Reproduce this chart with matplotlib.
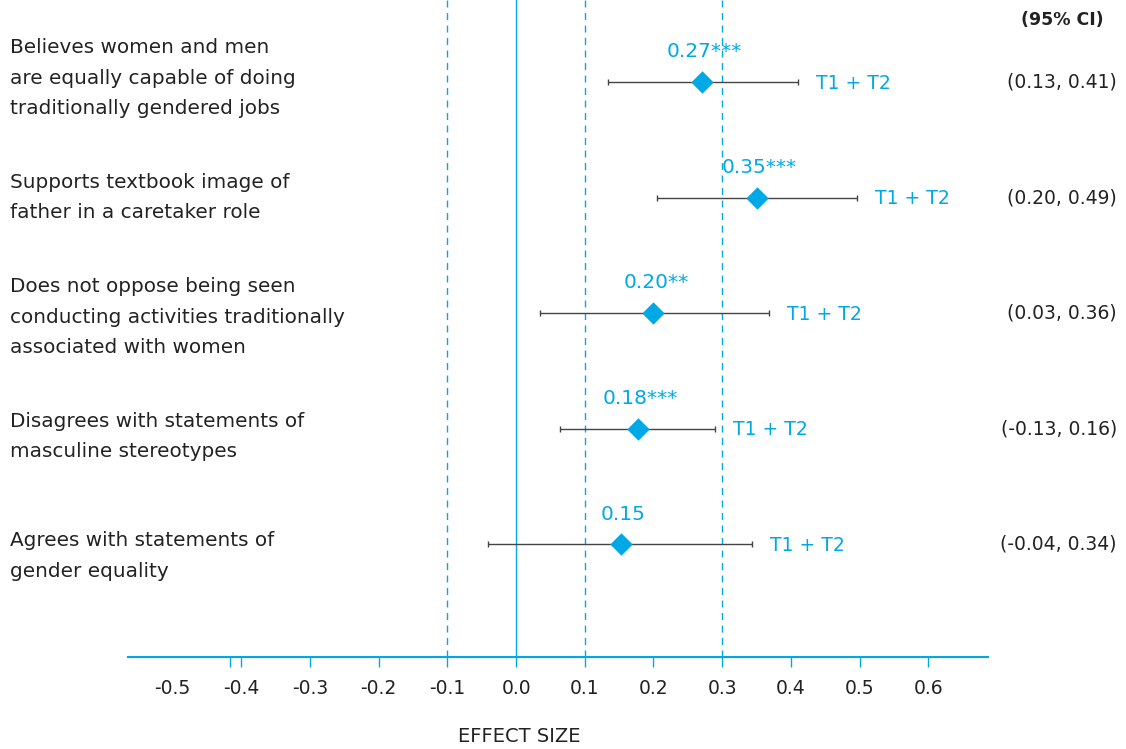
import numpy as np
import matplotlib
matplotlib.use("Agg")
import matplotlib.pyplot as plt
from matplotlib.transforms import blended_transform_factory

# data
labels = ["Believes women and men\nare equally capable of doing\ntraditionally gendered jobs",
          "Supports textbook image of\nfather in a caretaker role",
          "Does not oppose being seen\nconducting activities traditionally\nassociated with women",
          "Disagrees with statements of\nmasculine stereotypes",
          "Agrees with statements of\ngender equality"]
effects = [0.27, 0.35, 0.20, 0.177, 0.152]
ci_low = [0.134, 0.205, 0.035, 0.064, -0.041]
ci_high = [0.410, 0.496, 0.368, 0.290, 0.344]
value_labels = ["0.27***", "0.35***", "0.20**", "0.18***", "0.15"]
ci_labels = ["(0.13, 0.41)", "(0.20, 0.49)", "(0.03, 0.36)", "(-0.13, 0.16)", "(-0.04, 0.34)"]
group = "T1 + T2"
xticks = [-0.5, -0.4, -0.3, -0.2, -0.1, 0.0, 0.1, 0.2, 0.3, 0.4, 0.5, 0.6]
ref_dashed = [-0.1, 0.1, 0.3]

blue = "#00A9E6"
dark = "#222222"
plt.rcParams['font.family'] = ['DejaVu Sans']

fig = plt.figure(figsize=(11.26, 7.49), dpi=100)
ax = fig.add_axes([128/1126, 92/749, 860/1126, 657/749])

y = -np.arange(len(effects))
eff = np.array(effects)
err = [eff - np.array(ci_low), np.array(ci_high) - eff]

for xv in ref_dashed:
    ax.axvline(xv, color=blue, lw=1, ls=(0, (5, 4)), zorder=1)
ax.axvline(0, color=blue, lw=1, zorder=1)

ax.errorbar(eff, y, xerr=err, fmt='none', ecolor='#444444', elinewidth=1,
            capsize=2, capthick=1, zorder=2)
ax.scatter(eff, y, marker='D', s=130, color=blue, zorder=3, linewidths=0)

for i in range(len(effects)):
    ax.text(eff[i] + 0.004, y[i] + 0.26, value_labels[i], color=blue, fontsize=14.5,
            ha='center', va='center')
    ax.text(ci_high[i] + 0.026, y[i] - 0.01, group, color=blue, fontsize=13.5,
            ha='left', va='center')

# left labels sit on a slightly wider even spacing than the rows
label_y = -(-4 + 119.5 * np.arange(len(labels))) / 115.5
trans = blended_transform_factory(fig.transFigure, ax.transData)
for i in range(len(effects)):
    ax.text(10/1126, label_y[i], labels[i], transform=trans, ha='left', va='center',
            fontsize=14.4, color=dark, linespacing=1.76)
    ax.text(1117/1126, y[i], ci_labels[i], transform=trans, ha='right', va='center',
            fontsize=13.5, color=dark)
fig.text(1062/1126, 1 - 20/749, "(95% CI)", ha='center', va='center',
         fontsize=12.5, fontweight='bold', color=dark)

ax.set_xlim(-0.565, 0.687)
ax.set_ylim(-4.978, 0.71)
ax.set_yticks([])
for s in ['left', 'right', 'top']:
    ax.spines[s].set_visible(False)
ax.spines['bottom'].set_color(blue)
ax.spines['bottom'].set_linewidth(1.5)

ax.set_xticks(xticks)
ax.set_xticklabels(["{:.1f}".format(t) for t in xticks])
ax.set_xticks([-0.417], minor=True)
ax.tick_params(axis='x', which='both', colors=blue, length=7, width=1, labelcolor=dark,
               labelsize=13.5, pad=9)
ax.xaxis.get_major_ticks()[0].tick1line.set_visible(False)
fig.text(519/1126, 13/749, "EFFECT SIZE", ha='center', va='center', fontsize=14, color=dark)

fig.savefig("out.png", dpi=100)
